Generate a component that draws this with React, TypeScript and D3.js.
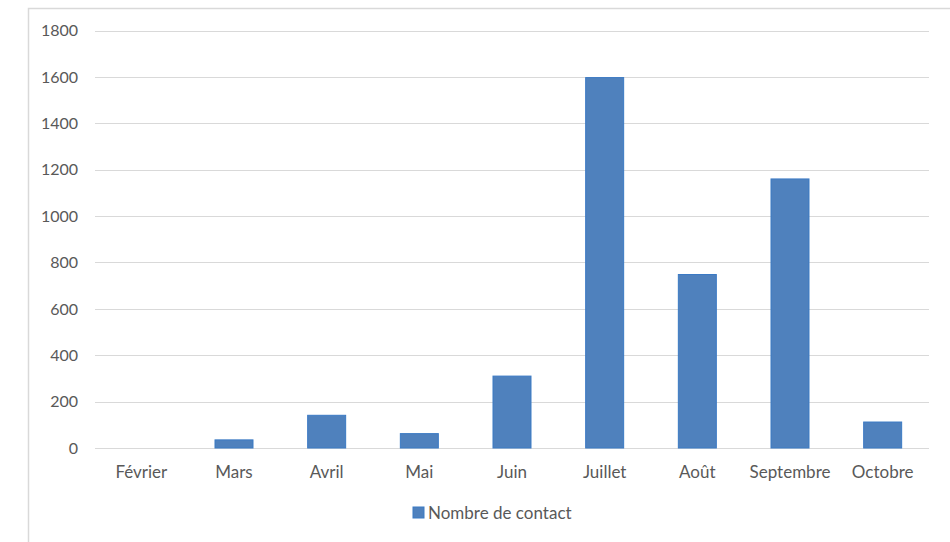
import React from "react";
import * as d3 from "d3";

const months = ["Février", "Mars", "Avril", "Mai", "Juin", "Juillet", "Août", "Septembre", "Octobre"];
const contacts = [0, 35, 141, 62, 310, 1597, 748, 1160, 112];
const yTicks = [0, 200, 400, 600, 800, 1000, 1200, 1400, 1600, 1800];
const seriesName = "Nombre de contact";

const W = 950;
const H = 542;
const plot = { left: 95, right: 929, top: 30.5, bottom: 448 };
const FONT = "Lato, 'Open Sans', sans-serif";
const TEXT = "#595959";
const GRID = "#d9d9d9";
const BAR = "#4f81bd";
const BAR_EDGE = "#3b7ac4";

export default function App() {
  const x = d3
    .scaleBand<string>()
    .domain(months)
    .range([plot.left, plot.right])
    .paddingInner(0.59)
    .paddingOuter(0.295);
  const y = d3.scaleLinear().domain([0, 1800]).range([plot.bottom, plot.top]);

  return (
    <svg
      width={W}
      height={H}
      style={{ position: "absolute", left: 0, top: 0, background: "#fff" }}
      fontFamily={FONT}
    >
      <rect x={0} y={0} width={W} height={H} fill="#fff" />
      {/* chart frame */}
      <rect x={28.5} y={8.5} width={1000} height={1000} fill="none" stroke={GRID} strokeWidth={1.5} />

      {/* horizontal gridlines and value labels */}
      {yTicks.map((t) => (
        <g key={t}>
          <line
            x1={plot.left}
            x2={plot.right}
            y1={Math.round(y(t)) + 0.5}
            y2={Math.round(y(t)) + 0.5}
            stroke={GRID}
            strokeWidth={1.2}
          />
          <text
            x={78}
            y={y(t)}
            dy="0.36em"
            textAnchor="end"
            fontSize={16}
            fill={TEXT}
          >
            {t}
          </text>
        </g>
      ))}

      {/* bars */}
      {months.map((m, i) => {
        const v = contacts[i];
        if (v <= 0) return null;
        const x0 = x(m)!;
        return (
          <rect
            key={m}
            x={x0}
            y={y(v)}
            width={x.bandwidth()}
            height={y(0) - y(v)}
            fill={BAR}
            stroke={BAR_EDGE}
            strokeWidth={1}
          />
        );
      })}

      {/* category labels */}
      {months.map((m) => (
        <text
          key={m}
          x={x(m)! + x.bandwidth() / 2}
          y={472}
          dy="0.36em"
          textAnchor="middle"
          fontSize={17}
          fill={TEXT}
        >
          {m}
        </text>
      ))}

      {/* legend */}
      <rect x={413} y={507} width={11} height={11} fill={BAR} stroke={BAR_EDGE} strokeWidth={1} />
      <text x={428} y={513} dy="0.36em" fontSize={17} fill={TEXT}>
        {seriesName}
      </text>
    </svg>
  );
}
